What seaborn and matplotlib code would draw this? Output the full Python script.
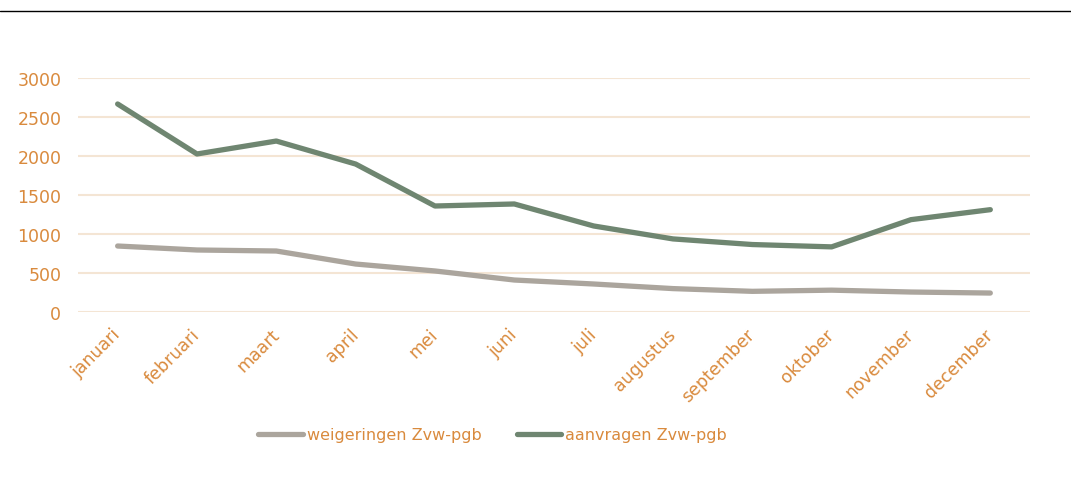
import seaborn as sns
from matplotlib import pyplot as plt
from matplotlib.lines import Line2D
import pandas as pd

months = ["januari", "februari", "maart", "april", "mei", "juni",
          "juli", "augustus", "september", "oktober", "november", "december"]
weigeringen = [846, 795, 782, 615, 526, 410, 359, 300, 265, 280, 256, 243]
aanvragen = [2667, 2026, 2192, 1897, 1359, 1385, 1103, 937, 865, 835, 1184, 1312]

series_names = ["weigeringen Zvw-pgb", "aanvragen Zvw-pgb"]
colors = ["#aba59d", "#6f8671"]
orange = "#d98a3d"
grid_color = "#f4e5d4"

df = pd.DataFrame({
    "maand": months * 2,
    "waarde": weigeringen + aanvragen,
    "reeks": [series_names[0]] * 12 + [series_names[1]] * 12,
})
df["pos"] = list(range(12)) * 2

sns.set_style("white")
plt.rcParams["font.family"] = ["DejaVu Sans"]

fig = plt.figure(figsize=(10.71, 5.02), dpi=100)
ax = fig.add_axes([0.0728, 0.3765, 0.8889, 0.4661])

sns.lineplot(data=df, x="pos", y="waarde", hue="reeks", palette=colors,
             hue_order=series_names, linewidth=3.8, ax=ax, legend=False,
             solid_capstyle="round")

ax.set_xlim(-0.5, 11.5)
ax.set_ylim(0, 3000)
ax.set_yticks(range(0, 3001, 500))
ax.set_xticks(range(12))
ax.set_xticklabels(months, rotation=45, ha="right", va="center",
                   rotation_mode="anchor")
ax.tick_params(axis="both", colors=orange, labelsize=12.5, length=0)
ax.tick_params(axis="y", pad=12)
ax.tick_params(axis="x", pad=14)
ax.grid(axis="y", color=grid_color, linewidth=1.5)
ax.set_axisbelow(True)
for s in ax.spines.values():
    s.set_visible(False)
ax.set_xlabel("")
ax.set_ylabel("")

handles = [Line2D([], [], color=c, linewidth=3.8, solid_capstyle="round") for c in colors]
leg = fig.legend(handles, series_names, loc="center", bbox_to_anchor=(0.46, 0.1315),
                 ncol=2, frameon=False, fontsize=11.5, handlelength=2.8,
                 handletextpad=0.25, columnspacing=2.2)
for t in leg.get_texts():
    t.set_color(orange)

fig.add_artist(Line2D([0, 1], [1 - 12 / 502, 1 - 12 / 502], color="black", linewidth=1))

fig.savefig("out.png", dpi=100)
